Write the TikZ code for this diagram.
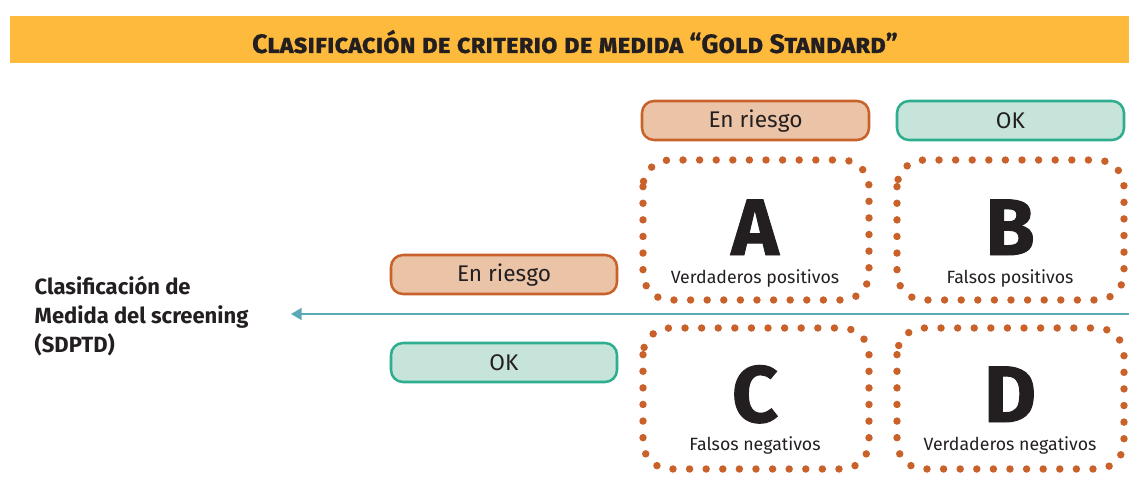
\documentclass[tikz,border=0pt]{standalone}
\usepackage{fontspec}
\setmainfont{Fira Sans}
\usetikzlibrary{arrows.meta}
\definecolor{band}{HTML}{FDBA3C}
\definecolor{ink}{HTML}{231F20}
\definecolor{rust}{HTML}{C8622A}
\definecolor{rustfill}{HTML}{EBC4A8}
\definecolor{teal}{HTML}{2EAE8E}
\definecolor{tealfill}{HTML}{C6E4DA}
\definecolor{arrowc}{HTML}{5BA8B7}
\tikzset{
  riskbox/.style={draw=rust, fill=rustfill, line width=1.9pt, rounded corners=9pt},
  okbox/.style={draw=teal, fill=tealfill, line width=1.9pt, rounded corners=9pt},
  boxtext/.style={text=ink, font=\fontsize{17}{20}\selectfont},
  dotbox/.style={draw=rust, line width=5.6pt, line cap=round, dash pattern=on 0pt off 12.45pt, rounded corners=20pt},
  bigletter/.style={anchor=base, inner sep=0pt, text=ink, font=\fontsize{60}{60}\selectfont\bfseries\addfontfeatures{FakeBold=1.2}},
  sublabel/.style={anchor=base, inner sep=0pt, text=ink, font=\fontsize{13.3}{16}\selectfont},
  lefttext/.style={anchor=base west, text=ink, font=\fontsize{16.5}{20}\selectfont\bfseries}
}
\begin{document}
\begin{tikzpicture}[x=0.75pt, y=-0.75pt]
\useasboundingbox (0,0) rectangle (1129,503);
% title band
\fill[band] (10,16) rectangle (1129,63);
\node[anchor=base, text=ink, font=\fontsize{20}{24}\selectfont\bfseries] (title) at (575,53)
  {\addfontfeatures{Letters=SmallCaps,FakeBold=0.6}Clasificación de criterio de medida “Gold Standard”};
% top header boxes
\draw[riskbox] (642,101) rectangle (869,140);
\node[boxtext] (tr) at (755.5,121) {En riesgo};
\draw[okbox] (897,101) rectangle (1124,140);
\node[boxtext] (tok) at (1010.5,121) {OK};
% left header boxes
\draw[riskbox] (391,255) rectangle (617,294);
\node[boxtext] (lr) at (504,275) {En riesgo};
\draw[okbox] (391,343) rectangle (617,382);
\node[boxtext] (lok) at (504,363) {OK};
% dotted cells
\draw[dotbox] (643,160) rectangle (869,300);
\draw[dotbox] (897,160) rectangle (1124,300);
\draw[dotbox] (643,328) rectangle (869,469);
\draw[dotbox] (897,328) rectangle (1124,469);
\node[bigletter] (A) at (755,255) {A};
\node[sublabel] (a) at (755,283) {Verdaderos positivos};
\node[bigletter] (B) at (1010,255) {B};
\node[sublabel] (b) at (1010,283) {Falsos positivos};
\node[bigletter] (C) at (755,422) {C};
\node[sublabel] (c) at (755,450) {Falsos negativos};
\node[bigletter] (D) at (1010,422) {D};
\node[sublabel] (d) at (1010,450) {Verdaderos negativos};
% arrow
\coordinate (ar) at (1129,314);
\coordinate (al) at (291,314);
\draw[arrowc, line width=1.2pt, -{Triangle[length=8pt,width=9pt]}] (ar) -- (al);
% left label
\node[lefttext] (l1) at (30,294) {Clasificación de};
\node[lefttext] (l2) at (30,323) {Medida del screening};
\node[lefttext] (l3) at (30,352) {(SDPTD)};
\end{tikzpicture}
\end{document}
